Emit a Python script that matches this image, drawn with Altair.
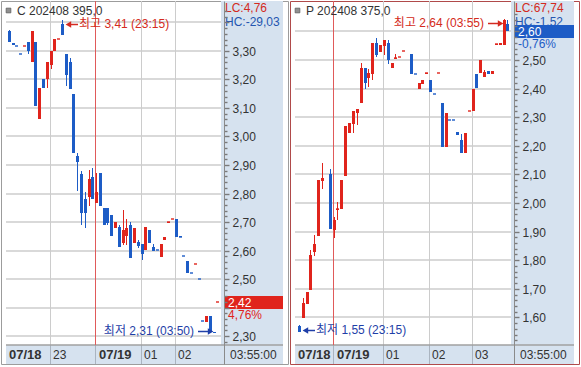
import json
import altair as alt
import pandas as pd

# ---------------- data : left panel  C 202408 395,0  (5-minute bars, slot = bar index) ----------------
c_slot = list(range(56))
c_open = [3.37, 3.328, 3.319, 3.291, 3.317, 3.33, 3.26, 3.33, 3.06, 3.20,
          3.20, 3.25, 3.30, 3.341, 3.395, 3.288, 3.262, 3.149, 2.93, 2.87,
          2.78, 2.789, 2.859, 2.768, 2.871, 2.75, 2.75, 2.725, 2.68, 2.684,
          2.625, 2.65, 2.69, 2.625, 2.63, 2.622, 2.602, 2.672, 2.613, 2.603,
          2.578, 2.637, 2.698, 2.71, 2.711, 2.65, 2.582, 2.564, 2.521, 2.552,
          2.50, 2.354, 2.35, 2.37, 2.315, 2.419]
c_high = [3.372, 3.328, 3.319, 3.291, 3.318, 3.33, 3.37, 3.33, 3.169, 3.20,
          3.262, 3.30, 3.342, 3.342, 3.41, 3.288, 3.274, 3.149, 2.943, 2.88,
          2.806, 2.882, 2.89, 2.871, 2.871, 2.75, 2.75, 2.725, 2.70, 2.69,
          2.742, 2.71, 2.70, 2.68, 2.637, 2.622, 2.681, 2.672, 2.622, 2.603,
          2.622, 2.649, 2.699, 2.711, 2.711, 2.65, 2.582, 2.564, 2.521, 2.553,
          2.50, 2.354, 2.37, 2.37, 2.315, 2.42]
c_low = [3.33, 3.32, 3.318, 3.29, 3.317, 3.288, 3.26, 3.108, 3.06, 3.169,
         3.169, 3.237, 3.30, 3.341, 3.356, 3.178, 3.167, 2.941, 2.81, 2.69,
         2.68, 2.756, 2.78, 2.768, 2.757, 2.69, 2.69, 2.65, 2.68, 2.613,
         2.619, 2.62, 2.575, 2.625, 2.608, 2.567, 2.602, 2.625, 2.598, 2.602,
         2.578, 2.637, 2.698, 2.71, 2.649, 2.649, 2.581, 2.52, 2.52, 2.552,
         2.499, 2.353, 2.35, 2.317, 2.31, 2.419]
c_close = [3.33, 3.32, 3.318, 3.29, 3.318, 3.30, 3.37, 3.108, 3.169, 3.169,
           3.262, 3.30, 3.342, 3.342, 3.356, 3.216, 3.167, 2.941, 2.91, 2.73,
           2.73, 2.85, 2.78, 2.806, 2.757, 2.69, 2.695, 2.65, 2.70, 2.613,
           2.672, 2.678, 2.575, 2.68, 2.617, 2.587, 2.681, 2.625, 2.598, 2.602,
           2.622, 2.649, 2.699, 2.711, 2.649, 2.649, 2.581, 2.52, 2.52, 2.553,
           2.499, 2.353, 2.37, 2.317, 2.31, 2.42]
c_band_slot = [11, 23, 35, 44]
c_band_label = ["23", "07/19", "01", "02"]
c_axis_labels = ["2.30", "2.50", "2.60", "2.70", "2.80", "2.90", "3.00", "3.10", "3.20", "3.30"]
c_grid = [2.30, 2.40, 2.50, 2.60, 2.70, 2.80, 2.90, 3.00, 3.10, 3.20, 3.30, 3.40]

# ---------------- data : right panel  P 202408 375,0 ----------------
p_slot = [0, 1, 2, 3, 4, 5, 6,
          8, 9, 10, 11, 12, 13, 14, 15, 16, 17, 18, 19, 20, 21, 22, 23, 24, 25, 26, 27,
          29, 30, 31, 32, 33, 34, 35, 36, 37, 38, 39, 40, 41, 42, 43, 44, 45, 46, 47, 48,
          49, 50, 51, 52, 53, 54]
p_open = [1.57, 1.597, 1.646, 1.696, 1.828, 1.886, 2.078,
          2.10, 1.906, 1.977, 1.978, 2.094, 2.244, 2.275, 2.316, 2.349, 2.471, 2.436, 2.451,
          2.558, 2.529, 2.549, 2.558, 2.471, 2.505, 2.511, 2.530,
          2.521, 2.451, 2.40, 2.416, 2.452, 2.43, 2.381, 2.454, 2.349, 2.197, 2.291, 2.291,
          2.248, 2.22, 2.176, 2.322, 2.323, 2.45, 2.453, 2.442, 2.462, 2.451, 2.554, 2.552,
          2.552, 2.625]
p_high = [1.573, 1.667, 1.688, 1.836, 1.888, 2.08, 2.14,
          2.12, 1.95, 2.005, 2.08, 2.269, 2.281, 2.322, 2.328, 2.488, 2.471, 2.47, 2.558,
          2.576, 2.552, 2.57, 2.57, 2.491, 2.52, 2.512, 2.531,
          2.521, 2.451, 2.42, 2.43, 2.453, 2.43, 2.381, 2.455, 2.349, 2.314, 2.291, 2.291,
          2.248, 2.24, 2.246, 2.323, 2.40, 2.45, 2.50, 2.466, 2.462, 2.462, 2.555, 2.56,
          2.645, 2.64]
p_low = [1.55, 1.597, 1.646, 1.696, 1.815, 1.886, 2.05,
         1.91, 1.877, 1.94, 1.978, 2.094, 2.244, 2.244, 2.273, 2.349, 2.398, 2.405, 2.43,
         2.51, 2.529, 2.517, 2.486, 2.471, 2.505, 2.511, 2.530,
         2.45, 2.45, 2.40, 2.416, 2.452, 2.389, 2.38, 2.454, 2.197, 2.197, 2.29, 2.29,
         2.238, 2.176, 2.176, 2.322, 2.323, 2.401, 2.453, 2.442, 2.451, 2.451, 2.554, 2.552,
         2.552, 2.60]
p_close = [1.55, 1.649, 1.688, 1.818, 1.856, 2.08, 2.088,
           1.91, 1.94, 1.978, 2.08, 2.269, 2.281, 2.322, 2.328, 2.471, 2.419, 2.454, 2.558,
           2.517, 2.552, 2.57, 2.50, 2.491, 2.508, 2.512, 2.531,
           2.45, 2.45, 2.42, 2.43, 2.453, 2.389, 2.38, 2.455, 2.197, 2.314, 2.29, 2.29,
           2.238, 2.176, 2.246, 2.323, 2.40, 2.401, 2.50, 2.459, 2.451, 2.462, 2.555, 2.56,
           2.64, 2.60]
p_band_slot = [9, 22, 34, 45]
p_band_label = ["07/19", "01", "02", "03"]
p_axis_labels = ["1.60", "1.70", "1.80", "1.90", "2.00", "2.10", "2.20", "2.30", "2.40", "2.50"]
p_grid = [1.60, 1.70, 1.80, 1.90, 2.00, 2.10, 2.20, 2.30, 2.40, 2.50, 2.60]

# ---------------- style ----------------
RED = "#e0241c"
BLUE = "#1d5cc6"
TXT_RED = "#d42a20"
TXT_BLUE = "#1f3fa8"
HC_BLUE = "#2456b0"
GRID = "#cccccc"
COL_BG = "#d6e2ef"
BORDER = "#a0a0a0"
DATE_RED = "#e05a5a"
FONT = "Liberation Sans"
KFONT = '"Liberation Sans", "Noto Sans CJK KR", sans-serif'
MAJOR_TEST = "abs(datum.value * 10 - round(datum.value * 10)) < 0.01"


def panel(cfg, fancy_ticks=True):
    xs = alt.Scale(domain=[cfg["x0"], cfg["x1"]], nice=False, zero=False, round=True)
    ys = alt.Scale(domain=[cfg["y0"], cfg["y1"]], nice=False, zero=False, round=True)
    label_expr = ("indexof(" + json.dumps(cfg["labels"]) + ", format(datum.value, '.2f')) >= 0 ? "
                  "replace(format(datum.value, '.2f'), '.', ',') : ''")
    tick_size = ({"condition": {"test": MAJOR_TEST, "value": 5}, "value": 3}
                 if fancy_ticks else 5)
    yaxis = alt.Axis(orient="right", offset=-cfg["col_w"],
                     values=cfg["minor"] if fancy_ticks else [float(v) for v in cfg["labels"]],
                     labelExpr=label_expr, tickSize=tick_size, tickColor="#7a7a7a",
                     tickWidth=1.4, domainColor="#8a8a8a", labelFont=FONT, labelFontSize=12,
                     labelColor="#333333", labelPadding=3, grid=False, title=None,
                     zindex=1, labelOverlap=False, labelBound=False)

    def X(f):
        return alt.X(f, type="quantitative", scale=xs, axis=None)

    def Y(f):
        return alt.Y(f, type="quantitative", scale=ys, axis=yaxis)

    dirc = alt.Color("dir:N", scale=alt.Scale(domain=["up", "down"], range=[RED, BLUE]),
                     legend=None)

    layers = []
    # axis column and time band backgrounds
    bg = pd.DataFrame({"xa": [cfg["col_s"], cfg["x0"]], "xb": [cfg["x1"], cfg["x1"]],
                       "ya": [cfg["ybot"], cfg["y0"]], "yb": [cfg["y1"], cfg["ybot"]]})
    layers.append(alt.Chart(bg).mark_rect(color=COL_BG).encode(
        x=X("xa"), x2="xb", y=Y("ya"), y2="yb"))

    # horizontal grid (price levels every 0.10) drawn as two-point lines
    g = pd.DataFrame([{"lvl": v, "gx": gx} for v in cfg["grid"] for gx in (cfg["x0"], cfg["col_s"])])
    layers.append(alt.Chart(g).mark_line(color=GRID, strokeWidth=1.5,
                                         interpolate="linear").encode(
        x=X("gx"), y=Y("lvl"), detail="lvl:N"))

    # vertical hour grid and band separators
    vg = pd.DataFrame({"s": cfg["band_slot"]})
    vg["ya"] = cfg["ybot"]
    vg["yb"] = cfg["y1"]
    layers.append(alt.Chart(vg).mark_rule(color=GRID, strokeWidth=1, xOffset=-0.5).encode(
        x=X("s"), y=Y("ya"), y2="yb"))
    vb = pd.DataFrame({"s": cfg["band_slot"]})
    vb["ya"] = cfg["y0"]
    vb["yb"] = cfg["ybot"]
    layers.append(alt.Chart(vb).mark_rule(color="#aab4c0", strokeWidth=1, xOffset=-0.5).encode(
        x=X("s"), y=Y("ya"), y2="yb"))

    # band top line
    bt = pd.DataFrame({"lvl": [cfg["ybot"], cfg["ybot"]], "gx": [cfg["x0"], cfg["x1"]]})
    layers.append(alt.Chart(bt).mark_line(color=BORDER, strokeWidth=1.5).encode(
        x=X("gx"), y=Y("lvl")))

    # date change line
    dl = pd.DataFrame({"s": [cfg["date_slot"]], "ya": [cfg["ybot"]], "yb": [cfg["y1"]]})
    layers.append(alt.Chart(dl).mark_rule(color=DATE_RED, strokeWidth=1, xOffset=-0.5).encode(
        x=X("s"), y=Y("ya"), y2="yb"))

    # candles
    cd = pd.DataFrame({"slot": cfg["slot"], "open": cfg["open"], "high": cfg["high"],
                       "low": cfg["low"], "close": cfg["close"]})
    base = alt.Chart(cd).transform_calculate(
        dir="datum.close >= datum.open ? 'up' : 'down'",
        flat="abs(datum.close - datum.open) < 0.004")
    layers.append(base.mark_rule(strokeWidth=1, xOffset=0.5).encode(
        x=X("slot"), y=Y("low"), y2="high", color=dirc))
    layers.append(base.mark_bar(size=3, xOffset=0.5, orient="vertical").encode(
        x=X("slot"), y=Y("open"), y2="close", color=dirc))
    layers.append(base.transform_filter("datum.flat").mark_rule(
        strokeWidth=1.4, xOffset=-1, x2Offset=2).encode(
        x=X("slot"), x2="slot", y=Y("close"), color=dirc))

    # header: icon + title, LC / HC
    hd = pd.DataFrame({"t": [cfg["title"]], "lc": [cfg["lc"]], "hc": [cfg["hc"]]})
    layers.append(alt.Chart(hd).mark_square(size=22, color="#909090", stroke="#606060",
                                            strokeWidth=0.8, opacity=1).encode(
        x=alt.value(7.5), y=alt.value(9.5)))
    layers.append(alt.Chart(hd).mark_text(align="left", baseline="middle", font=FONT,
                                          fontSize=12, color="#333333").encode(
        x=alt.value(16), y=alt.value(10), text="t:N"))
    layers.append(alt.Chart(hd).mark_text(align="left", baseline="middle", font=FONT,
                                          fontSize=12, color=TXT_RED).encode(
        x=alt.value(cfg["col_px"] + 1), y=alt.value(7), text="lc:N"))
    layers.append(alt.Chart(hd).mark_text(align="left", baseline="middle", font=FONT,
                                          fontSize=12, color=HC_BLUE).encode(
        x=alt.value(cfg["col_px"] + 1), y=alt.value(21), text="hc:N"))

    # current price box
    pb = pd.DataFrame({"v": [cfg["last"]], "xa": [cfg["col_s"]], "xb": [cfg["x1"]],
                       "lab": [cfg["last_label"]], "pct": [cfg["pct_label"]]})
    layers.append(alt.Chart(pb).mark_rule(color=cfg["box_color"], strokeWidth=13,
                                          xOffset=4, yOffset=0.5).encode(
        x=X("xa"), x2="xb", y=Y("v")))
    layers.append(alt.Chart(pb).mark_text(align="left", baseline="middle", dx=7, dy=1,
                                          color="white", font=FONT, fontSize=12).encode(
        x=X("xa"), y=Y("v"), text="lab:N"))
    layers.append(alt.Chart(pb).mark_text(align="left", baseline="middle", dx=7, dy=12.5,
                                          color=cfg["box_color"], font=FONT, fontSize=12).encode(
        x=X("xa"), y=Y("v"), text="pct:N"))

    # high / low annotations
    for a in cfg["ann"]:
        ad = pd.DataFrame({"s": [a["s"]], "v": [a["v"]], "txt": [a["txt"]]})
        yo = a["yoff"]
        if a["side"] == "right":
            tri = dict(shape="triangle-left", xOffset=6.4)
            line = dict(xOffset=7, x2Offset=16)
            txt = dict(align="left", dx=17)
        else:
            tri = dict(shape="triangle-right", xOffset=-3.4)
            line = dict(xOffset=-16, x2Offset=-5)
            txt = dict(align="right", dx=-20)
        layers.append(alt.Chart(ad).mark_point(filled=True, size=42, opacity=1,
                                               color=a["color"], yOffset=yo + 0.5,
                                               **tri).encode(x=X("s"), y=Y("v")))
        layers.append(alt.Chart(ad).mark_rule(color=a["color"], strokeWidth=1.5,
                                              yOffset=yo + 0.5, **line).encode(
            x=X("s"), x2="s", y=Y("v")))
        layers.append(alt.Chart(ad).mark_text(baseline="middle", dy=yo, color=a["color"],
                                              font=KFONT, fontSize=12, **txt).encode(
            x=X("s"), y=Y("v"), text="txt:N"))

    # time band labels
    bl = pd.DataFrame({"s": [cfg["x0"]] + cfg["band_slot"],
                       "lab": ["07/18"] + cfg["band_label"]})
    bl["bold"] = bl["lab"].str.contains("/")
    layers.append(alt.Chart(bl).transform_filter("datum.bold").mark_text(
        align="left", baseline="middle", dx=3, font=FONT, fontSize=13, fontWeight="bold",
        color="#333333").encode(x=X("s"), y=alt.value(354), text="lab:N"))
    layers.append(alt.Chart(bl).transform_filter("!datum.bold").mark_text(
        align="left", baseline="middle", dx=2, font=FONT, fontSize=12,
        color="#333333").encode(x=X("s"), y=alt.value(354), text="lab:N"))
    tl = pd.DataFrame({"s": [cfg["col_s"]], "lab": ["03:55:00"]})
    layers.append(alt.Chart(tl).mark_text(align="left", baseline="middle", dx=9, font=FONT,
                                          fontSize=12, color="#333333").encode(
        x=X("s"), y=alt.value(354), text="lab:N"))

    return alt.layer(*layers).properties(
        width=cfg["width"], height=cfg["height"],
        view=alt.ViewBackground(stroke=cfg["border"], strokeWidth=1, fill="white"))


left_cfg = dict(
    x0=-0.756, x1=72.27, col_s=56, col_w=64, col_px=223,
    y0=2.2018, y1=3.4754, ybot=2.2684, width=287, height=363,
    labels=c_axis_labels, grid=c_grid,
    minor=[round(2.28 + 0.02 * i, 2) for i in range(59)],
    band_slot=c_band_slot, band_label=c_band_label, date_slot=23,
    slot=c_slot, open=c_open, high=c_high, low=c_low, close=c_close,
    last=2.42, last_label="2,42", pct_label="4,76%", box_color=RED,
    ann=[dict(s=14, v=3.41, txt="최고 3,41 (23:15)", side="right", yoff=4, color=TXT_RED),
         dict(s=54, v=2.31, txt="최저 2,31 (03:50)", side="left", yoff=-2, color=TXT_BLUE)],
    title="C 202408 395,0", lc="LC:4,76", hc="HC:-29,03", border="#9c9c9c")

right_cfg = dict(
    x0=-1.0, x1=71.25, col_s=55, col_w=65, col_px=224,
    y0=1.4371, y1=2.7063, ybot=1.5035, width=289, height=363,
    labels=p_axis_labels, grid=p_grid,
    minor=[round(1.52 + 0.02 * i, 2) for i in range(58)],
    band_slot=p_band_slot, band_label=p_band_label, date_slot=9,
    slot=p_slot, open=p_open, high=p_high, low=p_low, close=p_close,
    last=2.60, last_label="2,60", pct_label="-0,76%", box_color=BLUE,
    ann=[dict(s=53, v=2.64, txt="최고 2,64 (03:55)", side="left", yoff=3, color=TXT_RED),
         dict(s=0, v=1.55, txt="최저 1,55 (23:15)", side="right", yoff=-2, color=TXT_BLUE)],
    title="P 202408 375,0", lc="LC:67,74", hc="HC:-1,52", border="#b04a4a")


def build(fancy):
    return alt.hconcat(panel(left_cfg, fancy), panel(right_cfg, fancy), spacing=2,
                       bounds="flush").properties(
        padding={"left": 0, "top": 0, "right": 0, "bottom": 0}
    ).configure(font=FONT, background="white")


try:
    chart = build(True)
    chart.to_dict()
except Exception:
    chart = build(False)

chart.save("out.html", embed_options={"renderer": "svg", "actions": False})
